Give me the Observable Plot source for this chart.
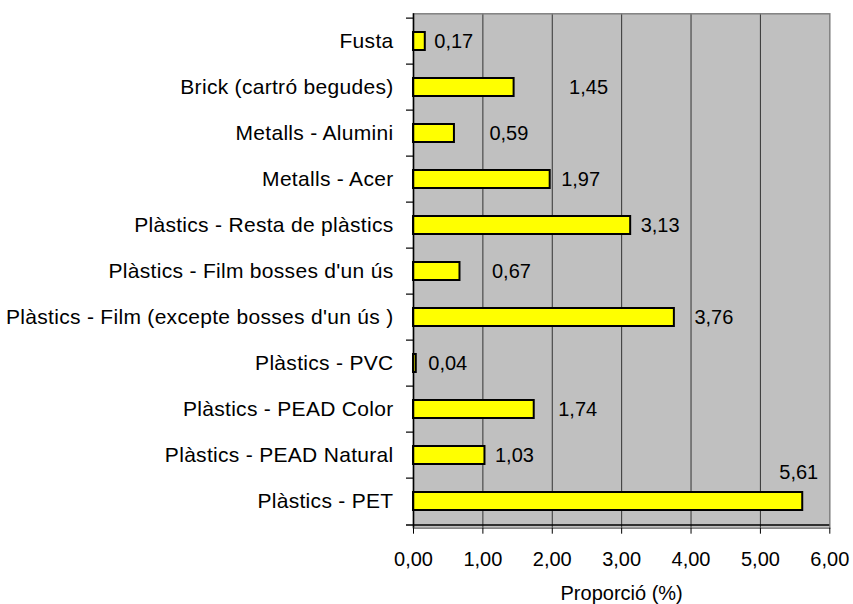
<!DOCTYPE html>
<html>
<head>
<meta charset="utf-8">
<script src="https://cdn.jsdelivr.net/npm/d3@7"></script>
<script src="https://cdn.jsdelivr.net/npm/@observablehq/plot@0.6"></script>
<style>
  html, body { margin: 0; padding: 0; background: #ffffff; }
  #chart svg { display: block; }
  #chart svg g[aria-label="y-axis tick label"] text { letter-spacing: 0.3px; }
</style>
</head>
<body>
<div id="chart"></div>
<script>
// ---- data ----
const categories = [
  "Fusta",
  "Brick (cartró begudes)",
  "Metalls - Alumini",
  "Metalls - Acer",
  "Plàstics - Resta de plàstics",
  "Plàstics - Film bosses d'un ús",
  "Plàstics - Film (excepte bosses d'un ús )",
  "Plàstics - PVC",
  "Plàstics - PEAD Color",
  "Plàstics - PEAD Natural",
  "Plàstics - PET"
];
const values = [0.17, 1.45, 0.59, 1.97, 3.13, 0.67, 3.76, 0.04, 1.74, 1.03, 5.61];
const xTicks = [0, 1, 2, 3, 4, 5, 6];
const axisTitle = "Proporció (%)";

// ---- layout ----
const W = 853, H = 604;
const mt = 13.3, mb = 76.3, ml = 413, mr = 23.7;
const step = (H - mt - mb) / categories.length;
const pxPerUnit = (W - ml - mr) / (xTicks[xTicks.length - 1] - xTicks[0]);
// label offsets from bar end, in px (as placed in the original)
const labelNudge = [9, 55, 35, 11, 10, 32, 20, 12, 24, 10, 0];

const data = categories.map((c, i) => ({category: c, value: values[i], nudge: labelNudge[i], i}));
const fmt = v => v.toFixed(2).replace(".", ",");
const last = data.length - 1;

const chart = Plot.plot({
  width: W,
  height: H,
  marginTop: mt,
  marginBottom: mb,
  marginLeft: ml,
  marginRight: mr,
  style: {fontFamily: "'Liberation Sans', Arial, sans-serif", color: "black", background: "white"},
  x: {domain: [xTicks[0], xTicks[xTicks.length - 1]]},
  y: {domain: categories, padding: 0},
  marks: [
    Plot.frame({fill: "#c0c0c0"}),
    Plot.ruleX(xTicks.slice(1, -1), {stroke: "#333333", strokeWidth: 1}),
    Plot.frame({stroke: "#808080", strokeWidth: 1.5}),
    Plot.barX(data, {x: "value", y: "category", fill: "#ffff00", stroke: "black", strokeWidth: 2, insetTop: 14, insetBottom: 14}),
    Plot.ruleX([0], {stroke: "black", strokeWidth: 1.5}),
    Plot.ruleY(categories, {y: d => d, x1: -7 / pxPerUnit, x2: 0, dy: -step / 2, stroke: "black", strokeWidth: 1.2}),
    Plot.ruleY([categories[last]], {y: d => d, x1: -7 / pxPerUnit, x2: xTicks[xTicks.length - 1], dy: step / 2, stroke: "black", strokeWidth: 1.5}),
    Plot.axisY({tickSize: 0, tickPadding: 20, fontSize: 21, label: null}),
    Plot.axisX({ticks: xTicks, tickFormat: fmt, tickSize: 6, tickPadding: 18, fontSize: 20, label: null, stroke: "black"}),
    Plot.text(data.filter(d => d.i !== last), {
      x: d => d.value + d.nudge / pxPerUnit, y: "category", text: d => fmt(d.value),
      textAnchor: "start", fontSize: 20, fill: "black"
    }),
    Plot.text([data[last]], {
      x: "value", y: "category", text: d => fmt(d.value),
      textAnchor: "middle", dx: -4, dy: -29, fontSize: 20, fill: "black"
    }),
    Plot.text([axisTitle], {frameAnchor: "bottom", dy: 72, fontSize: 20, fill: "black"})
  ]
});
document.getElementById("chart").appendChild(chart);
</script>
</body>
</html>
